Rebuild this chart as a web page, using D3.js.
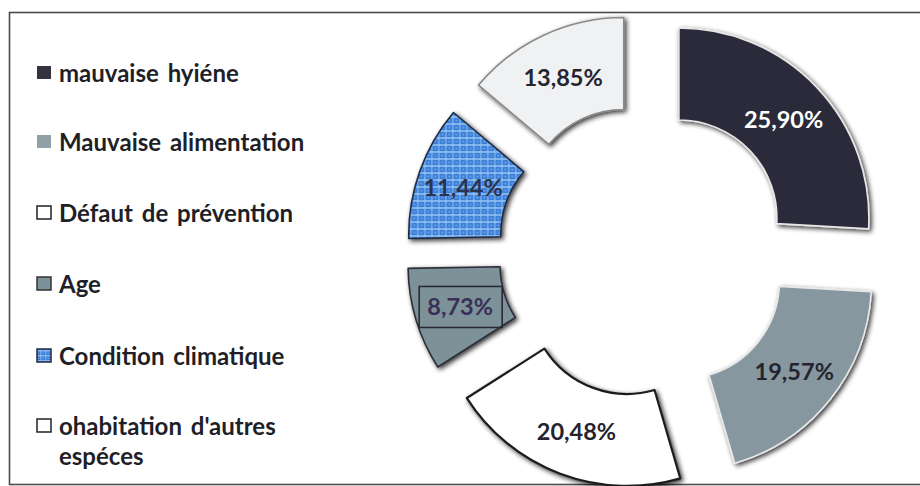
<!DOCTYPE html>
<html>
<head>
<meta charset="utf-8">
<script src="https://cdn.jsdelivr.net/npm/d3@7"></script>
<style>
  html, body { margin: 0; padding: 0; background: #ffffff; }
  svg { display: block; }
</style>
</head>
<body>
<svg id="chart" width="920" height="486"></svg>
<script>
// Causes and their shares (%), clockwise from 12 o'clock
const categories = [
  "mauvaise hyiéne",
  "Mauvaise alimentation",
  "Défaut de prévention",
  "Age",
  "Condition climatique",
  "ohabitation d'autres espéces"
];
const values = [25.90, 19.57, 20.48, 8.73, 11.44, 13.85];
// Legend entries split into display lines
const legendLines = [
  ["mauvaise hyiéne"],
  ["Mauvaise alimentation"],
  ["Défaut de prévention"],
  ["Age"],
  ["Condition climatique"],
  ["ohabitation d'autres", "espéces"]
];

const fills   = ["#2c2b3b", "#8697a0", "#ffffff", "#7c9298", "url(#weave)", "#eff1f3"];
const strokes = ["#e8e8e8", "#e8e8e8", "#1e1e1e", "#2e2e3a", "#1f2a44", "#8a8a8a"];
const labelColors = ["#ffffff", "#25242e", "#25242e", "#3a2f58", "#2a3350", "#25242e"];
const legendFills = ["#34333f", "#8fa0a6", "#ffffff", "#7c9298", "url(#weaveSmall)", "#ffffff"];
const legendStrokes = ["none", "none", "#222", "#333", "#1f2a44", "#222"];

const svg = d3.select("#chart");
const defs = svg.append("defs");

// Soft shadow around each slice
const f = defs.append("filter").attr("id", "shadow")
  .attr("x", "-20%").attr("y", "-20%").attr("width", "140%").attr("height", "140%");
f.append("feGaussianBlur").attr("in", "SourceAlpha").attr("stdDeviation", 2.4).attr("result", "b");
f.append("feOffset").attr("in", "b").attr("dx", 1.5).attr("dy", 1.5).attr("result", "o");
f.append("feComponentTransfer").attr("in", "o").attr("result", "s")
  .append("feFuncA").attr("type", "linear").attr("slope", 0.8);
const m = f.append("feMerge");
m.append("feMergeNode").attr("in", "s");
m.append("feMergeNode").attr("in", "SourceGraphic");

// Woven blue texture for "Condition climatique"
function weave(id, size) {
  const p = defs.append("pattern").attr("id", id)
    .attr("patternUnits", "userSpaceOnUse").attr("width", size).attr("height", size);
  p.append("rect").attr("width", size).attr("height", size).attr("fill", "#3478d6");
  p.append("rect").attr("x", 0).attr("y", 0).attr("width", size).attr("height", size * 0.3).attr("fill", "#9ac8f2").attr("opacity", 0.75);
  p.append("rect").attr("x", 0).attr("y", 0).attr("width", size * 0.3).attr("height", size).attr("fill", "#9ac8f2").attr("opacity", 0.55);
  p.append("rect").attr("x", size * 0.5).attr("y", size * 0.5).attr("width", size * 0.3).attr("height", size * 0.3).attr("fill", "#6aa4ea");
}
weave("weave", 7);
weave("weaveSmall", 5);

// Outer frame
svg.append("rect")
  .attr("x", 9.5).attr("y", 12.5).attr("width", 940).attr("height", 472)
  .attr("fill", "none").attr("stroke", "#4a4a4a").attr("stroke-width", 1.6);

// Donut geometry
const cx = 644, cy = 251;
const innerR = 98, outerR = 190, explode = 48;

const pie = d3.pie().sort(null).value(d => d).startAngle(0).endAngle(2 * Math.PI);
const arcs = pie(values);
const arc = d3.arc().innerRadius(innerR).outerRadius(outerR);
const fmt = v => d3.format(".2f")(v).replace(".", ",") + "%";

const g = svg.append("g").attr("transform", `translate(${cx},${cy})`);

const slices = g.selectAll("g.slice").data(arcs).join("g")
  .attr("class", "slice")
  .attr("transform", d => {
    const a = (d.startAngle + d.endAngle) / 2;
    return `translate(${Math.sin(a) * explode},${-Math.cos(a) * explode})`;
  });

slices.append("path")
  .attr("d", arc)
  .attr("fill", (d, i) => fills[i])
  .attr("stroke", (d, i) => strokes[i])
  .attr("stroke-width", (d, i) => i === 2 ? 2.2 : 1.6)
  .attr("stroke-linejoin", "round")
  .attr("filter", "url(#shadow)");

// Value labels at each slice centroid
const fontFamily = "Lato, 'Open Sans', sans-serif";
slices.each(function (d, i) {
  const sel = d3.select(this);
  const [lx, ly] = arc.centroid(d);
  if (i === 3) {
    sel.append("rect")
      .attr("x", lx - 41).attr("y", ly - 20).attr("width", 83).attr("height", 41)
      .attr("fill", "none").attr("stroke", "#2a2a35").attr("stroke-width", 1.6);
  }
  sel.append("text")
    .attr("x", lx).attr("y", ly)
    .attr("text-anchor", "middle")
    .attr("dominant-baseline", "central")
    .attr("font-family", fontFamily)
    .attr("font-weight", 700)
    .attr("font-size", 23.5)
    .attr("fill", labelColors[i])
    .text(fmt(d.data));
});

// Legend
const legendY = [72, 141, 212, 283, 355, 425];
const legend = svg.append("g");
categories.forEach((c, i) => {
  const y = legendY[i];
  legend.append("rect")
    .attr("x", 37).attr("y", y - 6).attr("width", 14).attr("height", 13)
    .attr("fill", legendFills[i])
    .attr("stroke", legendStrokes[i])
    .attr("stroke-width", 1.5);
  const t = legend.append("text")
    .attr("x", 59).attr("y", y)
    .attr("font-family", fontFamily)
    .attr("font-weight", 700)
    .attr("font-size", 24)
    .attr("word-spacing", 3)
    .attr("fill", "#1f1f28");
  legendLines[i].forEach((line, k) => {
    t.append("tspan")
      .attr("x", 59)
      .attr("y", y + k * 30)
      .attr("dominant-baseline", "central")
      .text(line);
  });
});
</script>
</body>
</html>
